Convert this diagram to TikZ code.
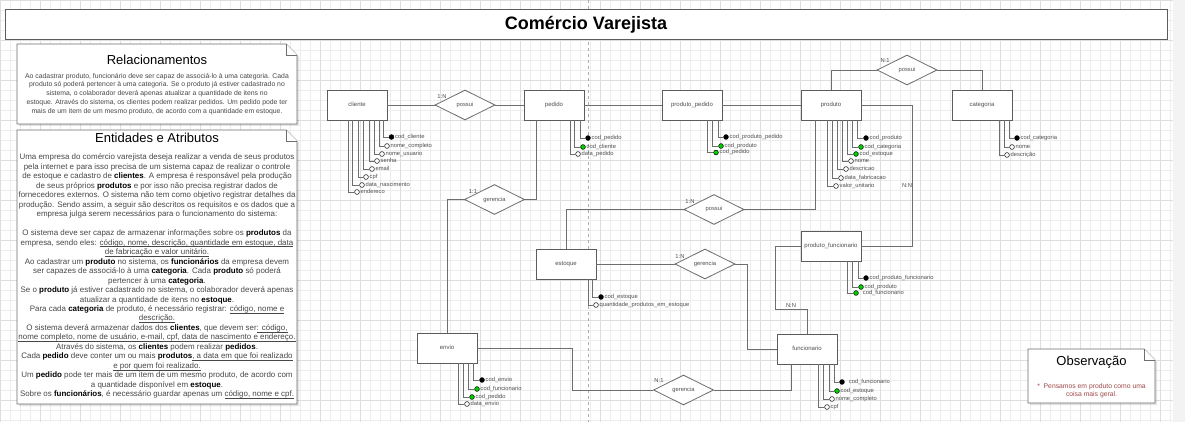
\documentclass[tikz,border=0pt]{standalone}
\usepackage{fontspec}
\setmainfont{Liberation Sans}
\usetikzlibrary{calc,shapes.geometric}
\definecolor{txt}{HTML}{474747}
\definecolor{dtxt}{HTML}{4E4E4E}
\definecolor{obstxt}{HTML}{A04848}
\definecolor{edge}{HTML}{6E6E6E}
\definecolor{entb}{HTML}{5C5C5C}
\definecolor{gmin}{HTML}{EDEDED}
\definecolor{gmaj}{HTML}{DEDEDE}
\definecolor{pkgreen}{HTML}{00D000}
\definecolor{outside}{HTML}{F3F3F3}
\newcommand{\kw}[1]{{\bfseries\color{black}#1}}
\newcommand{\ulx}[1]{\setbox0=\hbox{#1}\rlap{\rule[-1.6pt]{\wd0}{0.45pt}}\box0}
% #1 entity, #2 x offset from west side, #3 name, #4 x, #5 y, #6 fill, #7 label
\newcommand{\attr}[7]{%
  \node[attc,fill=#6] (#3) at (#4,#5) {};
  \node[attl] (#3l) at (#3.east) {#7};
  \draw[conn] (#1.south west) ++(#2,0) |- (#3.west);
}
\newcommand{\notebox}[4]{%
  \fill[black,opacity=0.11] (#1+2,#2+2) -- (#3-9,#2+2) -- (#3+2,#2+13) -- (#3+2,#4+2) -- (#1+2,#4+2) -- cycle;
  \draw[notep] (#1,#2) -- (#3-11,#2) -- (#3,#2+11) -- (#3,#4) -- (#1,#4) -- cycle;
  \draw[notep] (#3-11,#2) -- (#3-11,#2+11) -- (#3,#2+11);
}
\begin{document}
\begin{tikzpicture}[x=1pt,y=-1pt,
  conn/.style={draw=edge, line width=0.85pt},
  notep/.style={draw=edge, line width=0.9pt, fill=white, line join=miter},
  entity/.style={draw=entb, line width=0.9pt, fill=white, minimum width=60pt, minimum height=30pt, inner sep=0pt, font=\fontsize{6}{7}\selectfont, text=dtxt, text height=4.3pt, text depth=1.3pt},
  rel/.style={diamond, aspect=2, draw=edge, line width=0.85pt, fill=white, minimum width=60pt, minimum height=30pt, inner sep=0pt, font=\fontsize{5.8}{7}\selectfont, text=dtxt, text height=4.2pt, text depth=1.2pt},
  attc/.style={circle, draw=black, line width=0.5pt, minimum size=4.8pt, inner sep=0pt},
  attl/.style={anchor=west, inner sep=0.8pt, font=\fontsize{5.8}{7}\selectfont, text=dtxt, text height=4.1pt, text depth=1.2pt},
  card/.style={inner sep=0pt, font=\fontsize{5.8}{7}\selectfont, text=dtxt},
  ptitle/.style={inner sep=0pt, font=\fontsize{13}{15}\selectfont, text=black},
  enttxt/.style={inner sep=0pt, anchor=base, font=\fontsize{7.95}{9}\selectfont, text=txt},
  reltxt/.style={inner sep=0pt, anchor=base, font=\fontsize{6.85}{8}\selectfont, text=txt},
  obstx/.style={inner sep=0pt, anchor=base, font=\fontsize{6.8}{8}\selectfont, text=obstxt}
]
\useasboundingbox (0,0) rectangle (1185,422);
% ---------- background ----------
\fill[white] (0,0) rectangle (1185,422);
\fill[outside] (1173,0) rectangle (1185,422);
\draw[gmin, line width=0.4pt] (0,0) grid[step=10pt] (1173,422);
\draw[gmaj, line width=0.5pt] (0,0) grid[step=40pt] (1173,422);
\draw[gray!65, line width=0.6pt, dash pattern=on 3pt off 3pt] (588,0) -- (588,422);

% ---------- title ----------
\node[draw=entb, line width=1pt, fill=white, minimum width=1162pt, minimum height=30pt, inner sep=0pt,
      font=\fontsize{18}{20}\selectfont\bfseries] (title) at (586,25) {Comércio Varejista};

% ---------- Relacionamentos ----------
\notebox{17}{44}{297}{124}
\node[ptitle] (reltitle) at (157,60) {Relacionamentos};
\foreach \t [count=\i] in {
  {Ao cadastrar  produto, funcionário deve ser capaz de associá-lo à uma categoria. Cada},
  {produto só poderá pertencer à uma categoria. Se o produto já estiver cadastrado no},
  {sistema, o colaborador deverá apenas atualizar a quantidade de itens no},
  {estoque. Através do sistema, os clientes podem realizar pedidos. Um pedido pode ter},
  {mais de um item de um mesmo produto, de acordo com a quantidade em estoque.}}
  \node[reltxt] (rl\i) at (157,{78.3+8.7*(\i-1)}) {\t};

% ---------- Entidades e Atributos ----------
\notebox{17}{130}{297}{404}
\node[ptitle] (enttitle) at (157,138) {Entidades e Atributos};
\foreach \t [count=\i] in {
  {Uma empresa do comércio varejista deseja realizar a venda de seus produtos},
  {pela internet e para isso precisa de um sistema capaz de realizar o controle},
  {de estoque e cadastro de \kw{clientes}. A empresa é responsável pela produção},
  {de seus próprios \kw{produtos} e por isso não precisa registrar dados de},
  {fornecedores externos. O sistema não tem como objetivo registrar detalhes da},
  {produção. Sendo assim, a seguir são descritos os requisitos e os dados que a},
  {empresa julga serem necessários para o funcionamento do sistema:},
  {},
  {O sistema deve ser capaz de armazenar informações sobre os \kw{produtos} da},
  {empresa, sendo eles: \ulx{código, nome, descrição, quantidade em estoque, data}},
  {\ulx{de fabricação e valor unitário.}},
  {Ao cadastrar um \kw{produto} no sistema, os \kw{funcionários} da empresa devem},
  {ser capazes de associá-lo à uma \kw{categoria}. Cada \kw{produto} só poderá},
  {pertencer à uma \kw{categoria}.},
  {Se o \kw{produto} já estiver cadastrado no sistema, o colaborador deverá apenas},
  {atualizar a quantidade de itens no \kw{estoque}.},
  {Para cada \kw{categoria} de produto, é necessário registrar: \ulx{código, nome e}},
  {\ulx{descrição.}},
  {O sistema deverá armazenar dados dos \kw{clientes}, que devem ser\ulx{: código,}},
  {\ulx{nome completo, nome de usuário, e-mail, cpf, data de nascimento e endereço.}},
  {Através do sistema, os \kw{clientes} podem realizar \kw{pedidos}.},
  {Cada \kw{pedido} deve conter um ou mais \kw{produtos}\ulx{, a data em que foi realizado}},
  {\ulx{e por quem foi realizado.}},
  {Um \kw{pedido} pode ter mais de um item de um mesmo produto, de acordo com},
  {a quantidade disponível em \kw{estoque}.},
  {Sobre os \kw{funcionários}, é necessário guardar apenas um \ulx{código, nome e cpf.}}}
  \node[enttxt] (el\i) at (157,{159.8+9.48*(\i-1)}) {\t};

% ---------- Observação ----------
\notebox{1028}{349}{1155}{403}
\node[ptitle] (obstitle) at (1091.5,362) {Observação};
\node[obstx] (obs1) at (1091.5,388.4) {*\ \ Pensamos em produto como uma};
\node[obstx] (obs2) at (1091.5,396.6) {coisa mais geral.};

% ---------- entities ----------
\node[entity] (cliente) at (357,105) {cliente};
\node[entity] (pedido) at (554,105) {pedido};
\node[entity] (prodped) at (692,105) {produto\_pedido};
\node[entity] (produto) at (831,105) {produto};
\node[entity] (categoria) at (982,105) {categoria};
\node[entity] (estoque) at (566,264) {estoque};
\node[entity] (prodfunc) at (831,246) {produto\_funcionario};
\node[entity] (funcionario) at (807,349) {funcionario};
\node[entity] (envio) at (447,348) {envio};

% ---------- relationships ----------
\node[rel] (possui1) at (465,105) {possui};
\node[rel] (gerencia1) at (494.5,199.5) {gerencia};
\node[rel] (possui2) at (907,70) {possui};
\node[rel] (possui3) at (714,209.5) {possui};
\node[rel] (gerencia2) at (705,264) {gerencia};
\node[rel] (gerencia3) at (683.5,390) {gerencia};

% ---------- connectors ----------
\draw[conn] (cliente.east) -- (possui1.west);
\draw[conn] (possui1.east) -- (pedido.west);
\draw[conn] (pedido.east) -- (prodped.west);
\draw[conn] (prodped.east) -- (produto.west);
\draw[conn] (gerencia1.east) -| ($(pedido.south west)+(13,0)$);
\draw[conn] (gerencia1.west) -| (envio.north);
\draw[conn] (possui2.west) -| (produto.north);
\draw[conn] (possui2.east) -| (categoria.north);
\draw[conn] (produto.east) -- ++(51,0) |- (prodfunc.east);
\draw[conn] (possui3.east) -| ($(produto.south west)+(15,0)$);
\draw[conn] (possui3.west) -| (estoque.north);
\draw[conn] (estoque.east) -- (gerencia2.west);
\draw[conn] (gerencia2.east) -- ++(12,0) |- (funcionario.west);
\draw[conn] (prodfunc.west) -- ++(-25,0) |- ($(funcionario.north)+(0,-24)$) -- (funcionario.north);
\draw[conn] (gerencia3.east) -| ($(funcionario.south west)+(15,0)$);
\draw[conn] (envio.east) -- ++(95,0) |- (gerencia3.west);

% ---------- cardinalities ----------
\node[card] (k1) at (442,97) {1:N};
\node[card] (k2) at (473,192) {1:1};
\node[card] (k3) at (885,61) {N:1};
\node[card] (k4) at (690,202) {1:N};
\node[card] (k5) at (680,257) {1:N};
\node[card] (k6) at (659,381) {N:1};
\node[card] (k7) at (907,186) {N:N};
\node[card] (k8) at (791,306) {N:N};

% ---------- attributes ----------
% cliente
\attr{cliente}{57}{cl1}{391.5}{137}{black}{cod\_cliente}
\attr{cliente}{53}{cl2}{387}{146}{white}{nome\_completo}
\attr{cliente}{48}{cl3}{382}{154}{white}{nome\_usuario}
\attr{cliente}{43}{cl4}{377}{161}{white}{senha}
\attr{cliente}{37}{cl5}{372}{169}{white}{email}
\attr{cliente}{32}{cl6}{366}{177}{white}{cpf}
\attr{cliente}{26}{cl7}{362}{185}{white}{data\_nascimento}
\attr{cliente}{22}{cl8}{357}{192}{white}{endereco}
% pedido
\attr{pedido}{57}{pe1}{588}{138}{black}{cod\_pedido}
\attr{pedido}{51}{pe2}{583}{147}{pkgreen}{cod\_cliente}
\attr{pedido}{47}{pe3}{578}{154}{white}{data\_pedido}
% produto_pedido
\attr{prodped}{57}{pp1}{726}{137}{black}{cod\_produto\_pedido}
\attr{prodped}{51}{pp2}{721}{146}{pkgreen}{cod\_produto}
\attr{prodped}{46}{pp3}{716}{152.5}{pkgreen}{cod\_pedido}
% produto
\attr{produto}{57}{pr1}{866}{138}{black}{cod\_produto}
\attr{produto}{52}{pr2}{861}{147}{pkgreen}{cod\_categoria}
\attr{produto}{47}{pr3}{856}{154}{pkgreen}{cod\_estoque}
\attr{produto}{42}{pr4}{851}{161}{white}{nome}
\attr{produto}{37}{pr5}{846}{169}{white}{descricao}
\attr{produto}{32}{pr6}{841}{178}{white}{data\_fabricacao}
\attr{produto}{27}{pr7}{836}{186}{white}{valor\_unitario}
% categoria
\attr{categoria}{58}{ca1}{1017}{138}{black}{cod\_categoria}
\attr{categoria}{53}{ca2}{1012}{147}{white}{nome}
\attr{categoria}{48}{ca3}{1007}{155}{white}{descrição}
% estoque
\attr{estoque}{57}{es1}{601}{297}{black}{cod\_estoque}
\attr{estoque}{53}{es2}{596}{305}{white}{quantidade\_produtos\_em\_estoque}
% produto_funcionario
\attr{prodfunc}{58}{pf1}{866}{278}{black}{cod\_produto\_funcionario}
\attr{prodfunc}{52}{pf2}{861}{287}{pkgreen}{cod\_produto}
\attr{prodfunc}{47}{pf3}{856}{293}{pkgreen}{\ \ cod\_funcionario}
% funcionario
\attr{funcionario}{58}{fu1}{842}{382}{black}{\ \ cod\_funcionario}
\attr{funcionario}{53}{fu2}{837}{391}{pkgreen}{cod\_estoque}
\attr{funcionario}{47}{fu3}{832}{399}{white}{nome\_completo}
\attr{funcionario}{42}{fu4}{827}{407}{white}{cpf}
% envio
\attr{envio}{57}{en1}{482}{380}{black}{cod\_envio}
\attr{envio}{52}{en2}{477}{389}{pkgreen}{cod\_funcionario}
\attr{envio}{47}{en3}{472}{397}{pkgreen}{cod\_pedido}
\attr{envio}{42}{en4}{467}{404}{white}{data\_envio}
\end{tikzpicture}
\end{document}
